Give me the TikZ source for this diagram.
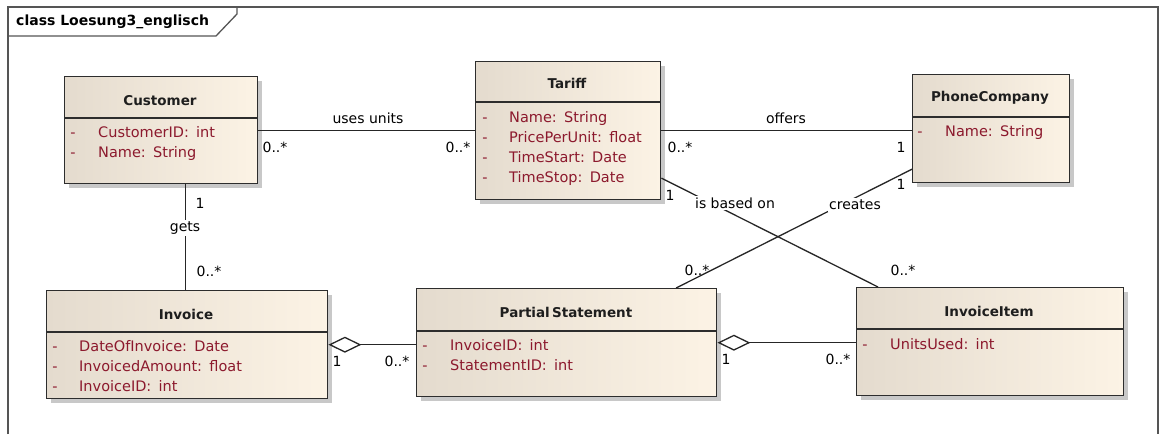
\documentclass[tikz,border=0pt]{standalone}
\usepackage{fontspec}
\setmainfont{DejaVu Sans}
\usetikzlibrary{arrows.meta,shadows,calc}

\definecolor{attrred}{RGB}{140,25,45}
\definecolor{boxleft}{RGB}{228,219,206}
\definecolor{boxright}{RGB}{252,243,229}
\definecolor{boxline}{RGB}{45,45,45}
\definecolor{framegray}{RGB}{85,85,85}
\definecolor{shadowgray}{RGB}{200,200,200}
\definecolor{nametext}{RGB}{30,30,30}

\newcommand\attrgap{\hspace{0.5em}}

\tikzset{
  classbox/.style={draw=boxline, line width=1.4pt, left color=boxleft, right color=boxright,
    drop shadow={shadow xshift=4pt, shadow yshift=-4pt, fill=shadowgray, opacity=1},
    inner sep=0pt, anchor=north west},
  sepline/.style={draw=boxline, line width=1.2pt},
  cname/.style={font=\fontsize{13.5}{16}\selectfont\bfseries, text=nametext, inner sep=0pt},
  vis/.style={font=\fontsize{14.5}{16}\selectfont, text=attrred, inner sep=0pt,
    text height=10pt, text depth=3pt},
  attr/.style={vis, anchor=west},
  conn/.style={draw=black!85, line width=1.3pt},
  lbl/.style={font=\fontsize{14}{16}\selectfont, inner sep=1pt},
  lblcut/.style={lbl, fill=white, inner sep=1.5pt},
  aggr/.style={{Diamond[fill=white,length=33pt,width=16pt]}-}
}

\begin{document}
\begin{tikzpicture}[x=1pt,y=-1pt]
\useasboundingbox (0,0) rectangle (1161,434);

% diagram frame and name tab
\draw[framegray, line width=1.3pt] (8,434) -- (8,7) -- (1158,7) -- (1158,434);
\draw[framegray, line width=1.3pt] (8,36) -- (216,36) -- (237,14) -- (237,7);
\node[font=\fontsize{14}{16}\selectfont\bfseries, anchor=west, inner sep=0pt] (title) at (16,22) {class Loesung3\_englisch};

% classes
\node[classbox, minimum width=193pt, minimum height=107pt] (cust) at (64,76) {};
\node[classbox, minimum width=185pt, minimum height=138pt] (tar) at (475,61) {};
\node[classbox, minimum width=157pt, minimum height=108pt] (phone) at (912,74) {};
\node[classbox, minimum width=281pt, minimum height=108pt] (inv) at (46,290) {};
\node[classbox, minimum width=300pt, minimum height=108pt] (ps) at (416,288) {};
\node[classbox, minimum width=267pt, minimum height=108pt] (item) at (856,287) {};

% header separators
\draw[sepline] ($(cust.north west)+(0,42)$) -- ($(cust.north east)+(0,42)$);
\draw[sepline] ($(tar.north west)+(0,41)$) -- ($(tar.north east)+(0,41)$);
\draw[sepline] ($(phone.north west)+(0,43)$) -- ($(phone.north east)+(0,43)$);
\draw[sepline] ($(inv.north west)+(0,42)$) -- ($(inv.north east)+(0,42)$);
\draw[sepline] ($(ps.north west)+(0,43)$) -- ($(ps.north east)+(0,43)$);
\draw[sepline] ($(item.north west)+(0,42)$) -- ($(item.north east)+(0,42)$);

% class names
\node[cname] (custname) at (160,101) {Customer};
\node[cname] (tarname) at (567,83) {Tariff};
\node[cname] (phonename) at (990,98) {PhoneCompany};
\node[cname] (invname) at (186,314) {Invoice};
\node[cname] (psname) at (566,312) {Partial\,Statement};
\node[cname] (itemname) at (989,311) {InvoiceItem};

% attributes
\node[vis] (c1v) at (73,134) {-};  \node[attr] (c1) at (98,134) {CustomerID:\attrgap int};
\node[vis] (c2v) at (73,154) {-};  \node[attr] (c2) at (98,154) {Name:\attrgap String};

\node[vis] (t1v) at (485,119) {-}; \node[attr] (t1) at (509,119) {Name:\attrgap String};
\node[vis] (t2v) at (485,139) {-}; \node[attr] (t2) at (509,139) {PricePerUnit:\attrgap float};
\node[vis] (t3v) at (485,159) {-}; \node[attr] (t3) at (509,159) {TimeStart:\attrgap Date};
\node[vis] (t4v) at (485,179) {-}; \node[attr] (t4) at (509,179) {TimeStop:\attrgap Date};

\node[vis] (p1v) at (920,133) {-}; \node[attr] (p1) at (945,133) {Name:\attrgap String};

\node[vis] (i1v) at (55,348) {-};  \node[attr] (i1) at (79,348) {DateOfInvoice:\attrgap Date};
\node[vis] (i2v) at (55,368) {-};  \node[attr] (i2) at (79,368) {InvoicedAmount:\attrgap float};
\node[vis] (i3v) at (55,388) {-};  \node[attr] (i3) at (79,388) {InvoiceID:\attrgap int};

\node[vis] (s1v) at (425,347) {-}; \node[attr] (s1) at (450,347) {InvoiceID:\attrgap int};
\node[vis] (s2v) at (425,367) {-}; \node[attr] (s2) at (450,367) {StatementID:\attrgap int};

\node[vis] (u1v) at (865,346) {-}; \node[attr] (u1) at (890,346) {UnitsUsed:\attrgap int};

% associations
\draw[conn] (cust.east) -- (cust.east -| tar.west);
\draw[conn] (tar.east) -- (tar.east -| phone.west);
\draw[conn] ([xshift=24pt]cust.south) -- ([xshift=24pt]cust.south |- inv.north);
\draw[conn] ($(tar.north east)!0.84!(tar.south east)$) -- ($(item.north west)!0.082!(item.north east)$);
\draw[conn] ($(phone.north west)!0.87!(phone.south west)$) -- ($(ps.north west)!0.863!(ps.north east)$);

% aggregations
\draw[conn, aggr] (inv.east) -- (inv.east -| ps.west);
\draw[conn, aggr] (ps.east) -- (ps.east -| item.west);

% association names
\node[lbl] (usesunits) at (368,118) {uses units};
\node[lbl] (offers) at (786,118) {offers};
\node[lblcut] (gets) at (185,228) {gets};
\node[lblcut] (basedon) at (735,203) {is based on};
\node[lblcut] (creates) at (855,205) {creates};

% multiplicities
\node[lbl] (m1) at (275,147) {0..*};
\node[lbl] (m2) at (458,147) {0..*};
\node[lbl] (m3) at (680,147) {0..*};
\node[lbl] (m4) at (901,147) {1};
\node[lbl] (m5) at (200,203) {1};
\node[lbl] (m6) at (209,271) {0..*};
\node[lbl] (m7) at (337,361) {1};
\node[lbl] (m8) at (397,361) {0..*};
\node[lbl] (m9) at (726,359) {1};
\node[lbl] (m10) at (838,359) {0..*};
\node[lbl] (m11) at (670,195) {1};
\node[lbl] (m12) at (901,184) {1};
\node[lbl] (m13) at (697,270) {0..*};
\node[lbl] (m14) at (903,270) {0..*};
\end{tikzpicture}
\end{document}
